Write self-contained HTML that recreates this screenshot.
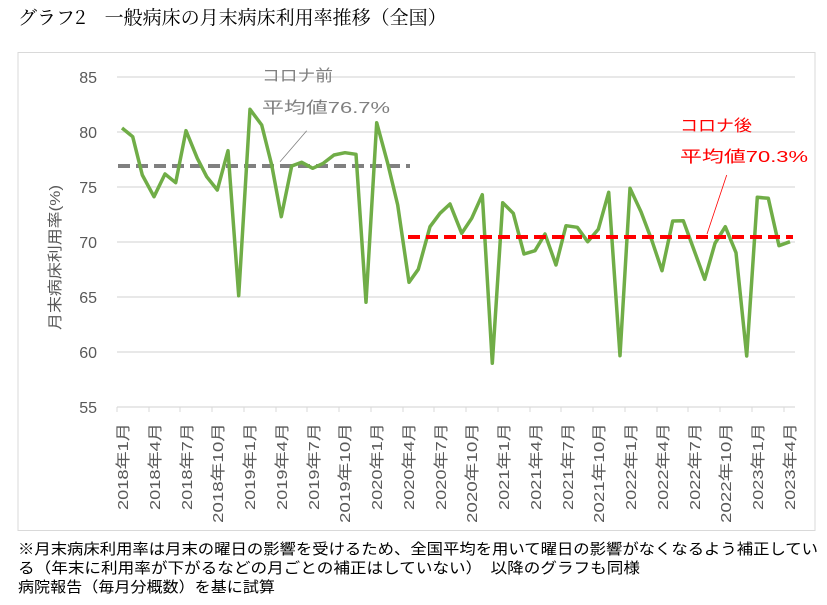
<!DOCTYPE html>
<html><head><meta charset="utf-8"><style>
body{margin:0;background:#fff;width:827px;height:605px;overflow:hidden;}
svg{display:block}
</style></head><body>
<svg width="827" height="605" xmlns="http://www.w3.org/2000/svg" font-family="Liberation Sans, Noto Sans CJK JP, sans-serif">
<text x="18" y="24" font-family="Noto Serif CJK JP, serif" font-size="19" fill="#000">グラフ2　一般病床の月末病床利用率推移（全国）</text>
<rect x="18" y="52.5" width="797" height="478" fill="#fff" stroke="#d9d9d9" stroke-width="1"/>
<g stroke="#d9d9d9" stroke-width="1.2">
<line x1="117" y1="77" x2="795" y2="77"/><line x1="117" y1="132" x2="795" y2="132"/>
<line x1="117" y1="187" x2="795" y2="187"/><line x1="117" y1="242" x2="795" y2="242"/>
<line x1="117" y1="297" x2="795" y2="297"/><line x1="117" y1="352" x2="795" y2="352"/>
<line x1="117" y1="407" x2="795" y2="407"/>
</g>
<g stroke="#d9d9d9" stroke-width="1">
<line x1="117" y1="407" x2="117" y2="412"/><line x1="149" y1="407" x2="149" y2="412"/><line x1="180" y1="407" x2="180" y2="412"/><line x1="212" y1="407" x2="212" y2="412"/><line x1="244" y1="407" x2="244" y2="412"/><line x1="276" y1="407" x2="276" y2="412"/><line x1="307" y1="407" x2="307" y2="412"/><line x1="339" y1="407" x2="339" y2="412"/><line x1="371" y1="407" x2="371" y2="412"/><line x1="403" y1="407" x2="403" y2="412"/><line x1="434" y1="407" x2="434" y2="412"/><line x1="466" y1="407" x2="466" y2="412"/><line x1="498" y1="407" x2="498" y2="412"/><line x1="530" y1="407" x2="530" y2="412"/><line x1="561" y1="407" x2="561" y2="412"/><line x1="593" y1="407" x2="593" y2="412"/><line x1="625" y1="407" x2="625" y2="412"/><line x1="657" y1="407" x2="657" y2="412"/><line x1="688" y1="407" x2="688" y2="412"/><line x1="720" y1="407" x2="720" y2="412"/><line x1="752" y1="407" x2="752" y2="412"/><line x1="784" y1="407" x2="784" y2="412"/>
</g>
<g font-size="16" fill="#595959" text-anchor="end">
<text x="97" y="83">85</text><text x="97" y="138">80</text><text x="97" y="193">75</text>
<text x="97" y="248">70</text><text x="97" y="303">65</text><text x="97" y="358">60</text><text x="97" y="413">55</text>
</g>
<text transform="translate(60,330) rotate(-90)" font-size="15" fill="#595959" textLength="145" lengthAdjust="spacingAndGlyphs">月末病床利用率(%)</text>
<g font-size="15" fill="#595959">
<text transform="translate(128,510) rotate(-90)" textLength="87" lengthAdjust="spacingAndGlyphs">2018年1月</text>
<text transform="translate(160,510) rotate(-90)" textLength="87" lengthAdjust="spacingAndGlyphs">2018年4月</text>
<text transform="translate(192,510) rotate(-90)" textLength="87" lengthAdjust="spacingAndGlyphs">2018年7月</text>
<text transform="translate(223,523) rotate(-90)" textLength="100" lengthAdjust="spacingAndGlyphs">2018年10月</text>
<text transform="translate(255,510) rotate(-90)" textLength="87" lengthAdjust="spacingAndGlyphs">2019年1月</text>
<text transform="translate(287,510) rotate(-90)" textLength="87" lengthAdjust="spacingAndGlyphs">2019年4月</text>
<text transform="translate(319,510) rotate(-90)" textLength="87" lengthAdjust="spacingAndGlyphs">2019年7月</text>
<text transform="translate(350,523) rotate(-90)" textLength="100" lengthAdjust="spacingAndGlyphs">2019年10月</text>
<text transform="translate(382,510) rotate(-90)" textLength="87" lengthAdjust="spacingAndGlyphs">2020年1月</text>
<text transform="translate(414,510) rotate(-90)" textLength="87" lengthAdjust="spacingAndGlyphs">2020年4月</text>
<text transform="translate(446,510) rotate(-90)" textLength="87" lengthAdjust="spacingAndGlyphs">2020年7月</text>
<text transform="translate(477,523) rotate(-90)" textLength="100" lengthAdjust="spacingAndGlyphs">2020年10月</text>
<text transform="translate(509,510) rotate(-90)" textLength="87" lengthAdjust="spacingAndGlyphs">2021年1月</text>
<text transform="translate(541,510) rotate(-90)" textLength="87" lengthAdjust="spacingAndGlyphs">2021年4月</text>
<text transform="translate(573,510) rotate(-90)" textLength="87" lengthAdjust="spacingAndGlyphs">2021年7月</text>
<text transform="translate(604,523) rotate(-90)" textLength="100" lengthAdjust="spacingAndGlyphs">2021年10月</text>
<text transform="translate(636,510) rotate(-90)" textLength="87" lengthAdjust="spacingAndGlyphs">2022年1月</text>
<text transform="translate(668,510) rotate(-90)" textLength="87" lengthAdjust="spacingAndGlyphs">2022年4月</text>
<text transform="translate(700,510) rotate(-90)" textLength="87" lengthAdjust="spacingAndGlyphs">2022年7月</text>
<text transform="translate(731,523) rotate(-90)" textLength="100" lengthAdjust="spacingAndGlyphs">2022年10月</text>
<text transform="translate(763,510) rotate(-90)" textLength="87" lengthAdjust="spacingAndGlyphs">2023年1月</text>
<text transform="translate(795,510) rotate(-90)" textLength="87" lengthAdjust="spacingAndGlyphs">2023年4月</text>
</g>
<line x1="118" y1="166" x2="410" y2="166" stroke="#808080" stroke-width="4" stroke-dasharray="12,6"/>
<polyline fill="none" stroke="#70ad47" stroke-width="3.5" stroke-linejoin="round" points="122,128 132.7,136.7 142.3,175 154,196.7 165,174 175.7,182.7 186,130.7 197.3,158.3 206.7,176.7 217.3,190 228,150.7 238.7,295.7 250,109.3 261.7,125 271.7,165 281.3,216.7 291.7,166 301.7,162.3 312.7,168.3 323.3,163.3 334,155 345,152.7 356,154.3 366,302.3 376.7,122.7 387.7,163.3 397.7,205 409,282.3 418.3,269.3 430,226.7 440,213.3 450,204 461.7,233.3 471.7,218.3 482.3,194.7 492.3,363.3 502.7,202.7 513.3,213.3 524,254 535,250.7 545,234 556,265 566,225.7 577.3,227.3 587.7,241.7 598.3,229.3 608.7,192.3 620,355.7 630,188.3 641,211.7 651.7,240 662,270.7 672.7,221 683.3,220.7 694,250 704.7,279.3 715,243.3 725.3,226.7 736,252.7 746.7,356 757.3,197.3 768.3,198.3 779,245.7 790,241.7"/>
<line x1="408" y1="237" x2="793" y2="237" stroke="#ff0000" stroke-width="4" stroke-dasharray="12,6"/>
<line x1="306.7" y1="130.7" x2="280" y2="161.7" stroke="#808080" stroke-width="0.8"/>
<line x1="726.7" y1="175" x2="707" y2="234" stroke="#ff0000" stroke-width="0.8"/>
<g font-size="16" fill="#808080">
<text x="262" y="81" textLength="71" lengthAdjust="spacingAndGlyphs">コロナ前</text><text x="262" y="113" textLength="128" lengthAdjust="spacingAndGlyphs">平均値76.7%</text>
</g>
<g font-size="16" fill="#ff0000">
<text x="680" y="131" textLength="72" lengthAdjust="spacingAndGlyphs">コロナ後</text><text x="680" y="162" textLength="128" lengthAdjust="spacingAndGlyphs">平均値70.3%</text>
</g>
<g font-size="15" fill="#000">
<text x="18" y="554" textLength="800" lengthAdjust="spacingAndGlyphs">※月末病床利用率は月末の曜日の影響を受けるため、全国平均を用いて曜日の影響がなくなるよう補正してい</text>
<text x="18" y="573" textLength="622" lengthAdjust="spacingAndGlyphs">る（年末に利用率が下がるなどの月ごとの補正はしていない）　以降のグラフも同様</text>
<text x="18" y="592" textLength="257" lengthAdjust="spacingAndGlyphs">病院報告（毎月分概数）を基に試算</text>
</g>
</svg>
</body></html>
